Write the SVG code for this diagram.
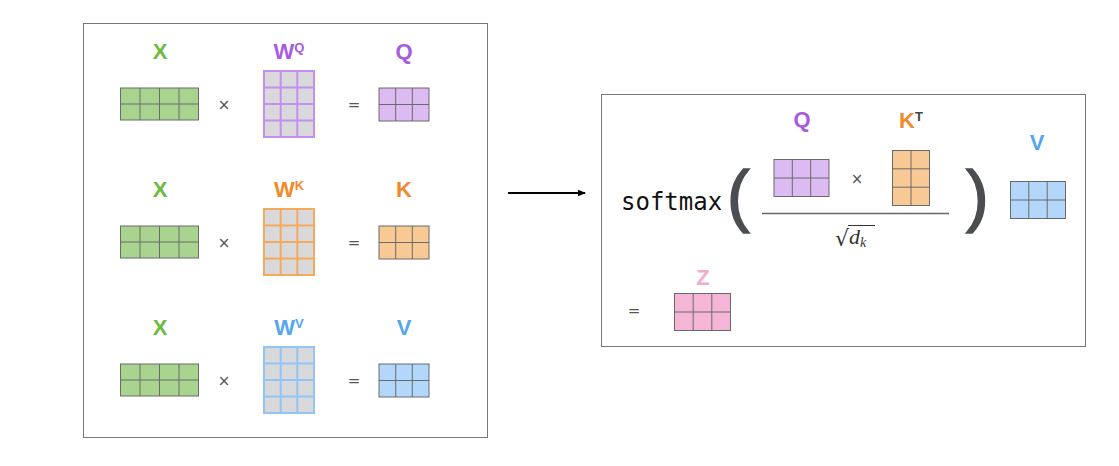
<svg xmlns="http://www.w3.org/2000/svg" width="1119" height="466" viewBox="0 0 1119 466">
<style>
.lbl{font-family:"Liberation Sans",Arial,sans-serif;font-weight:bold;font-size:22px;text-anchor:middle}
.sup{font-size:13px}
.op{font-family:"DejaVu Sans",sans-serif;font-size:15px;fill:#555;text-anchor:middle}
.box{fill:#fff;stroke:#777;stroke-width:1}
.g{stroke:#6a6a6a;stroke-width:1}
.w{fill:#d9d9db;stroke-width:2}
.paren{font-family:"Liberation Sans",Arial,sans-serif;font-size:68px;fill:#4a4e53;stroke:#4a4e53;stroke-width:1.5}
.green{fill:#a9d48f}.purple{fill:#dbbbf2}.orange{fill:#f8c994}.blue{fill:#b3d6fb}.pink{fill:#f5b5d6}
.cg{fill:#6dbb3f}.cp{fill:#a75be0}.co{fill:#f08a2a}.cb{fill:#55a6f0}.cz{fill:#f3accf}
</style>
<defs>
<marker id="ah" markerWidth="8" markerHeight="8" refX="7" refY="4" orient="auto" markerUnits="userSpaceOnUse">
<path d="M0,0.8 L8,4 L0,7.2 Z" fill="#000"/>
</marker>
<g id="mx">
<rect x="0" y="0" width="78" height="32" class="green g"/>
<path d="M19.5,0V32M39,0V32M58.5,0V32M0,16H78" class="g" fill="none"/>
</g>
<g id="r32">
<rect x="0" y="0" width="50" height="33" class="g" fill="inherit"/>
<path d="M16.7,0V33M33.3,0V33M0,16.5H50" class="g" fill="none"/>
</g>
</defs>

<rect id="leftbox" x="83.5" y="23.5" width="404" height="414" class="box"/>
<rect id="rightbox" x="601.5" y="94.5" width="484" height="252" class="box"/>

<g id="rowQ">
<text x="160" y="58.5" class="lbl cg">X</text>
<use href="#mx" x="120.5" y="88"/>
<text x="224" y="110" class="op">×</text>
<text x="289" y="58.5" class="lbl cp">W<tspan class="sup" dy="-7">Q</tspan></text>
<g>
<rect x="264" y="71" width="50" height="66" class="w" stroke="#c58ef0"/>
<path d="M280.7,71V137M297.3,71V137M264,87.5H314M264,104H314M264,120.5H314" stroke="#c58ef0" stroke-width="2" fill="none"/>
</g>
<text x="354" y="110" class="op">=</text>
<text x="404" y="58.5" class="lbl cp">Q</text>
<g fill="#dbbbf2"><use href="#r32" x="379" y="88"/></g>
</g>

<g id="rowK">
<text x="160" y="196.5" class="lbl cg">X</text>
<use href="#mx" x="120.5" y="226"/>
<text x="224" y="248" class="op">×</text>
<text x="289" y="196.5" class="lbl co">W<tspan class="sup" dy="-7">K</tspan></text>
<g>
<rect x="264" y="209" width="50" height="66" class="w" stroke="#f4a95c"/>
<path d="M280.7,209V275M297.3,209V275M264,225.5H314M264,242H314M264,258.5H314" stroke="#f4a95c" stroke-width="2" fill="none"/>
</g>
<text x="354" y="248" class="op">=</text>
<text x="404" y="196.5" class="lbl co">K</text>
<g fill="#f8c994"><use href="#r32" x="379" y="226"/></g>
</g>

<g id="rowV">
<text x="160" y="334.5" class="lbl cg">X</text>
<use href="#mx" x="120.5" y="364"/>
<text x="224" y="386" class="op">×</text>
<text x="289" y="334.5" class="lbl cb">W<tspan class="sup" dy="-7">V</tspan></text>
<g>
<rect x="264" y="347" width="50" height="66" class="w" stroke="#92c4f7"/>
<path d="M280.7,347V413M297.3,347V413M264,363.5H314M264,380H314M264,396.5H314" stroke="#92c4f7" stroke-width="2" fill="none"/>
</g>
<text x="354" y="386" class="op">=</text>
<text x="404" y="334.5" class="lbl cb">V</text>
<g fill="#b3d6fb"><use href="#r32" x="379" y="364"/></g>
</g>

<g id="connectors">
<line x1="508" y1="193" x2="585" y2="193" stroke="#000" stroke-width="2" marker-end="url(#ah)"/>
</g>

<g id="attention">
<text x="621" y="210" font-family="DejaVu Sans Mono,monospace" font-size="24" fill="#111">softmax</text>
<text x="727" y="219" class="paren">(</text>
<text x="966" y="219" class="paren">)</text>

<text x="802" y="127" class="lbl cp">Q</text>
<g>
<rect x="774" y="159.5" width="55" height="37" class="purple g"/>
<path d="M792.3,159.5V196.5M810.7,159.5V196.5M774,178H829" class="g" fill="none"/>
</g>
<text x="857" y="184" class="op">×</text>
<text x="911" y="127.5" class="lbl co">K<tspan class="sup" dy="-7" fill="#444">T</tspan></text>
<g>
<rect x="892.5" y="150.5" width="37" height="55" class="orange g"/>
<path d="M911,150.5V205.5M892.5,168.8H929.5M892.5,187.2H929.5" class="g" fill="none"/>
</g>
<line x1="762" y1="213.5" x2="949" y2="213.5" stroke="#666" stroke-width="1.3"/>
<g id="sqrt" fill="#333">
<text x="835" y="246" font-family="DejaVu Serif,serif" font-size="22">√</text>
<line x1="848" y1="225.5" x2="875" y2="225.5" stroke="#333" stroke-width="1"/>
<text x="849" y="244" font-family="Liberation Serif,serif" font-style="italic" font-size="22">d<tspan font-size="14" dy="3">k</tspan></text>
</g>

<text x="1037" y="149.5" class="lbl cb">V</text>
<g>
<rect x="1010.5" y="181.5" width="55" height="37" class="blue g"/>
<path d="M1028.8,181.5V218.5M1047.2,181.5V218.5M1010.5,200H1065.5" class="g" fill="none"/>
</g>

<text x="634" y="316" class="op">=</text>
<text x="703" y="284.5" class="lbl cz">Z</text>
<g>
<rect x="674.5" y="293.5" width="56" height="37" class="pink g"/>
<path d="M693.2,293.5V330.5M711.8,293.5V330.5M674.5,312H730.5" class="g" fill="none"/>
</g>
</g>
</svg>
